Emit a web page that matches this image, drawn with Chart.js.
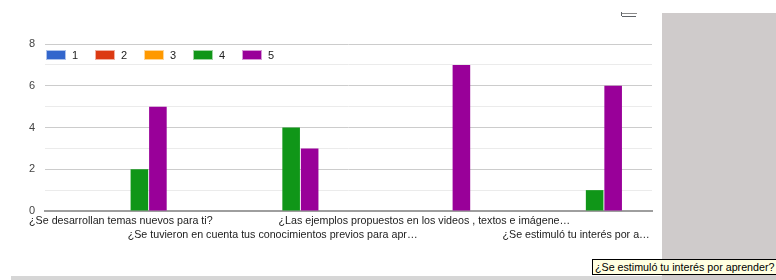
<!DOCTYPE html>
<html>
<head>
<meta charset="utf-8">
<script src="https://cdn.jsdelivr.net/npm/chart.js@4"></script>
<style>
  html, body { margin: 0; padding: 0; background: #ffffff; }
  body { width: 776px; height: 280px; position: relative; overflow: hidden; font-family: Arial, "Liberation Sans", sans-serif; }
  #wrap { position: absolute; left: 0; top: 0; width: 662px; height: 276px; }
  #side { position: absolute; left: 662px; top: 13px; width: 114px; height: 267px; background: #cfcbcb; }
  #bottom { position: absolute; left: 11px; top: 276px; width: 651px; height: 4px; background: #d6d6d6; }
  #icon1 { position: absolute; left: 621px; top: 13px; width: 16px; height: 1px; background: #8a8a8a; }
  #icon2 { position: absolute; left: 622px; top: 16px; width: 14px; height: 1px; background: #5f6368; }
  #icon3 { position: absolute; left: 621px; top: 12px; width: 1px; height: 4px; background: #5f6368; }
  #tip { position: absolute; left: 592px; top: 259px; height: 14px; padding: 0 2px 0 2px; background: #ffffe1; border: 1px solid #000; font: 10.7px Arial, "Liberation Sans", sans-serif; line-height: 14px; color: #000; white-space: nowrap; }
</style>
</head>
<body>
<div id="wrap"><canvas id="c"></canvas></div>
<div id="side"></div>
<div id="bottom"></div>
<div id="icon1"></div><div id="icon2"></div><div id="icon3"></div>
<div id="tip">¿Se estimuló tu interés por aprender?</div>
<script>
const categories = [
  "¿Se desarrollan temas nuevos para ti?",
  "¿Se tuvieron en cuenta tus conocimientos previos para apr…",
  "¿Las ejemplos propuestos en los videos , textos e imágene…",
  "¿Se estimuló tu interés por a…"
];
const seriesNames = ["1", "2", "3", "4", "5"];
const series1 = [0, 0, 0, 0];
const series2 = [0, 0, 0, 0];
const series3 = [0, 0, 0, 0];
const series4 = [2, 4, 0, 1];
const series5 = [5, 3, 7, 6];
const yTicks = [0, 2, 4, 6, 8];
const colors = ["#3366cc", "#dc3912", "#ff9900", "#109618", "#990099"];

const allSeries = [series1, series2, series3, series4, series5];

const legendPlugin = {
  id: 'insideLegend',
  afterDraw(chart) {
    const ctx = chart.ctx;
    const area = chart.chartArea;
    ctx.save();
    ctx.font = '11px Arial, "Liberation Sans", sans-serif';
    ctx.textBaseline = 'middle';
    ctx.textAlign = 'left';
    let x = area.left + 1;
    const y = 50;
    chart.data.datasets.forEach((ds) => {
      ctx.fillStyle = ds.backgroundColor;
      ctx.fillRect(x, y, 20, 10);
      ctx.strokeStyle = 'rgba(255,255,255,0.6)';
      ctx.lineWidth = 1;
      ctx.strokeRect(x + 0.5, y + 0.5, 19, 9);
      ctx.fillStyle = '#222222';
      ctx.fillText(ds.label, x + 26, y + 5.5);
      x += 49;
    });
    ctx.restore();
  }
};

new Chart(document.getElementById('c'), {
  type: 'bar',
  data: {
    labels: categories,
    datasets: allSeries.map((d, i) => ({
      label: seriesNames[i],
      data: d,
      backgroundColor: colors[i],
      borderWidth: 0,
      barPercentage: 0.95,
      categoryPercentage: 0.61
    }))
  },
  options: {
    responsive: true,
    maintainAspectRatio: false,
    animation: false,
    layout: { padding: { left: 1, right: 10, top: 44, bottom: 25 } },
    plugins: { legend: { display: false }, tooltip: { enabled: false } },
    scales: {
      x: {
        grid: { display: false, drawTicks: false },
        border: { display: true, color: '#9e9e9e', width: 2 },
        afterFit(scale) { scale.height = 40; },
        ticks: {
          autoSkip: false,
          maxRotation: 0,
          minRotation: 0,
          padding: 3,
          color: '#222222',
          font: { family: 'Arial, "Liberation Sans", sans-serif', size: 10.7, lineHeight: 1.3 },
          callback(value, index) {
            const lab = categories[index];
            return index % 2 === 0 ? [lab, ''] : ['', lab];
          }
        }
      },
      y: {
        min: 0,
        max: 8,
        afterFit(scale) { scale.width = 44; },
        afterBuildTicks(scale) {
          const t = [];
          for (let v = 0; v <= 8; v++) t.push({ value: v });
          scale.ticks = t;
        },
        border: { display: false },
        grid: {
          drawTicks: false,
          color(ctx) {
            const v = ctx.tick.value;
            if (v === 0) return 'rgba(0,0,0,0)';
            return yTicks.includes(v) ? '#cccccc' : '#ebebeb';
          },
          lineWidth: 1
        },
        ticks: {
          padding: 10,
          color: '#444444',
          font: { family: 'Arial, "Liberation Sans", sans-serif', size: 11 },
          callback(value) { return yTicks.includes(value) ? String(value) : ''; }
        }
      }
    }
  },
  plugins: [legendPlugin]
});
</script>
</body>
</html>
